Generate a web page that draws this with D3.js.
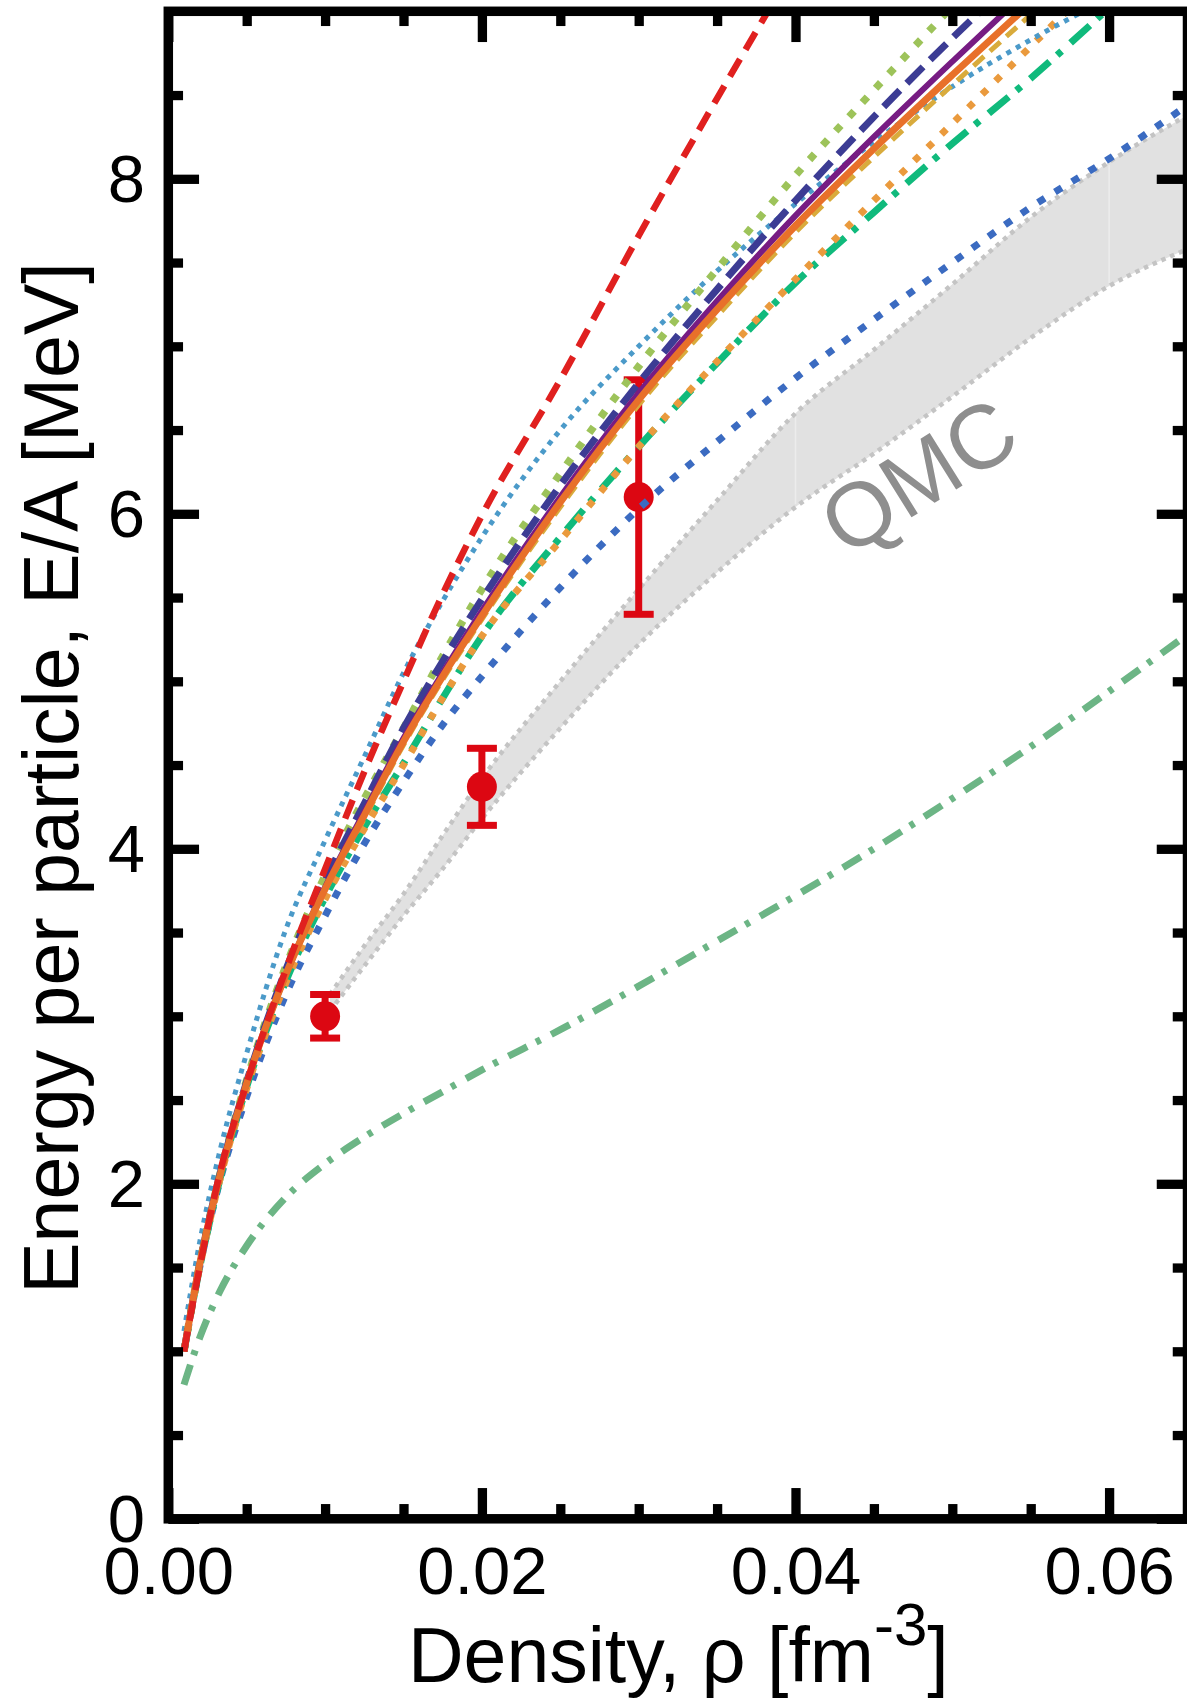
<!DOCTYPE html>
<html>
<head>
<meta charset="utf-8">
<script src="https://cdn.jsdelivr.net/npm/d3@7"></script>
<style>
  body { margin: 0; background: #ffffff; }
  svg { display: block; }
  text { font-family: "Liberation Sans", Arial, Helvetica, sans-serif; }
</style>
</head>
<body>
<svg id="chart" width="1187" height="1700"></svg>
<script>
// Density grid (fm^-3) shared by the model curves
const densityGrid = [0.001, 0.002, 0.0033, 0.005, 0.0075, 0.01, 0.0125, 0.015, 0.0175, 0.02,
                     0.025, 0.03, 0.035, 0.04, 0.045, 0.05, 0.055, 0.06, 0.065];

// Energy per particle (MeV) of each model along densityGrid
const redDashed        = [1.0, 1.5, 2.07, 2.6, 3.28, 3.88, 4.46, 5.0, 5.52, 5.99, 6.8, 7.66, 8.48, 9.28];
const lightBlueDotted  = [1.12, 1.65, 2.2, 2.78, 3.52, 4.05, 4.55, 5.05, 5.48, 5.86, 6.5, 7.0, 7.45, 7.85, 8.22, 8.55, 8.83, 9.08];
const lightGreenDotted = [1.0, 1.52, 2.06, 2.62, 3.3, 3.84, 4.3, 4.72, 5.15, 5.55, 6.24, 6.88, 7.46, 8.02, 8.53, 9.03];
const darkBlueDashed   = [1.0, 1.52, 2.06, 2.61, 3.28, 3.81, 4.27, 4.72, 5.12, 5.49, 6.17, 6.78, 7.34, 7.87, 8.37, 8.84, 9.28];
const goldDashed       = [1.0, 1.52, 2.05, 2.6, 3.24, 3.75, 4.18, 4.62, 5.01, 5.37, 6.04, 6.65, 7.18, 7.68, 8.13, 8.56, 8.98, 9.4];
const purpleSolid      = [1.0, 1.52, 2.05, 2.6, 3.25, 3.77, 4.22, 4.66, 5.05, 5.42, 6.1, 6.72, 7.27, 7.78, 8.25, 8.7, 9.14];
const orangeSolid      = [1.0, 1.52, 2.05, 2.6, 3.25, 3.76, 4.2, 4.64, 5.03, 5.39, 6.07, 6.68, 7.22, 7.72, 8.18, 8.62, 9.05];
const orangeDotted     = [1.0, 1.5, 2.03, 2.57, 3.2, 3.7, 4.12, 4.5, 4.9, 5.27, 5.84, 6.4, 6.91, 7.4, 7.87, 8.33, 8.79, 9.25];
const tealDashDot      = [1.0, 1.5, 2.03, 2.58, 3.21, 3.71, 4.13, 4.51, 4.9, 5.27, 5.86, 6.4, 6.9, 7.38, 7.8, 8.21, 8.6, 9.02];
const blueDotted       = [1.0, 1.5, 2.02, 2.52, 3.13, 3.6, 4.03, 4.4, 4.74, 5.03, 5.56, 6.03, 6.43, 6.81, 7.16, 7.5, 7.83, 8.12, 8.44];
const greenDashDot     = [0.8, 1.08, 1.36, 1.63, 1.92, 2.12, 2.28, 2.42, 2.55, 2.68, 2.92, 3.18, 3.45, 3.72, 4.0, 4.3, 4.61, 4.94, 5.28];

// QMC band
const qmcDensity = [0.0103, 0.0125, 0.015, 0.0175, 0.02, 0.025, 0.03, 0.035, 0.04, 0.045, 0.05, 0.055, 0.06, 0.065];
const qmcUpper   = [3.13, 3.42, 3.73, 4.08, 4.42, 5.0, 5.55, 6.08, 6.6, 6.98, 7.37, 7.77, 8.1, 8.38];
const qmcLower   = [3.03, 3.3, 3.6, 3.88, 4.18, 4.72, 5.22, 5.65, 6.04, 6.36, 6.7, 7.05, 7.36, 7.58];
const qmcSeams   = [0.04, 0.06];

// Data points with symmetric error bars
const expDensity = [0.01, 0.02, 0.03];
const expEnergy  = [3.0, 4.37, 6.1];
const expError   = [0.13, 0.23, 0.7];

// Axis ticks
const xMajorTicks = [0, 0.02, 0.04, 0.06];
const xMinorTicks = [0.005, 0.01, 0.015, 0.025, 0.03, 0.035, 0.045, 0.05, 0.055];
const yMajorTicks = [0, 2, 4, 6, 8];
const yMinorTicks = [0.5, 1, 1.5, 2.5, 3, 3.5, 4.5, 5, 5.5, 6.5, 7, 7.5, 8.5];

const svg = d3.select("#chart");
const plotLeft = 168.3, plotRight = 1187.5, plotTop = 11.3, plotBottom = 1518.8;
const frameW = 9.5, halfFrame = frameW / 2;

const x = d3.scaleLinear().domain([0, 0.065]).range([plotLeft, plotRight]);
const y = d3.scaleLinear().domain([0, 9]).range([plotBottom, plotTop]);

svg.append("defs").append("clipPath").attr("id", "plotClip")
  .append("rect").attr("x", plotLeft).attr("y", plotTop)
  .attr("width", plotRight - plotLeft).attr("height", plotBottom - plotTop);

const plot = svg.append("g").attr("clip-path", "url(#plotClip)");

// QMC band
const band = qmcDensity.map((d, i) => ({ x: d, lo: qmcLower[i], hi: qmcUpper[i] }));
plot.append("path").datum(band)
  .attr("fill", "#e1e1e1")
  .attr("d", d3.area().x(d => x(d.x)).y0(d => y(d.lo)).y1(d => y(d.hi)).curve(d3.curveMonotoneX));

const bandLo = d3.scaleLinear().domain(qmcDensity).range(qmcLower);
const bandHi = d3.scaleLinear().domain(qmcDensity).range(qmcUpper);
plot.selectAll("line.seam").data(qmcSeams).join("line")
  .attr("class", "seam")
  .attr("x1", d => x(d)).attr("x2", d => x(d))
  .attr("y1", d => y(bandLo(d)) - 3).attr("y2", d => y(bandHi(d)) + 3)
  .attr("stroke", "#ececec").attr("stroke-width", 1.5);

const lineOf = key => d3.line().x(d => x(d.x)).y(d => y(d[key])).curve(d3.curveMonotoneX);
["hi", "lo"].forEach(key => {
  plot.append("path").datum(band)
    .attr("fill", "none").attr("stroke", "#c4c4c4").attr("stroke-width", 4.5)
    .attr("stroke-dasharray", "4.5,5")
    .attr("d", lineOf(key));
});

// QMC label
svg.append("text")
  .attr("transform", `translate(${x(0.0478)},${y(6.23)}) rotate(-32)`)
  .attr("text-anchor", "middle").attr("dy", "0.36em")
  .attr("font-size", 90).attr("fill", "#8e8e8e")
  .text("QMC");

// Experimental points
const expG = plot.append("g").attr("stroke", "#dc0712").attr("fill", "#dc0712");
expDensity.forEach((d, i) => {
  const cx = x(d), e = expError[i];
  expG.append("line").attr("x1", cx).attr("x2", cx)
    .attr("y1", y(expEnergy[i] - e)).attr("y2", y(expEnergy[i] + e)).attr("stroke-width", 7);
  [expEnergy[i] - e, expEnergy[i] + e].forEach(v => {
    expG.append("line").attr("x1", cx - 15).attr("x2", cx + 15)
      .attr("y1", y(v)).attr("y2", y(v)).attr("stroke-width", 7);
  });
  expG.append("circle").attr("cx", cx).attr("cy", y(expEnergy[i])).attr("r", 15).attr("stroke", "none");
});

// Model curves, bottom layer first
const curves = [
  { v: greenDashDot,     color: "#6cb585", w: 7,   dash: "21,10,5,12" },
  { v: blueDotted,       color: "#3b6bc1", w: 7,   dash: "8,12" },
  { v: tealDashDot,      color: "#10ba7c", w: 7,   dash: "26,10,6,12" },
  { v: orangeDotted,     color: "#ea9a3d", w: 7,   dash: "7,12" },
  { v: lightBlueDotted,  color: "#4b9ac9", w: 5,   dash: "5,6" },
  { v: lightGreenDotted, color: "#9dc35a", w: 7.5, dash: "7.5,12" },
  { v: darkBlueDashed,   color: "#3c3c94", w: 7,   dash: "23,10" },
  { v: goldDashed,       color: "#d9ab3c", w: 5,   dash: "14,8" },
  { v: purpleSolid,      color: "#771c83", w: 6,   dash: null },
  { v: orangeSolid,      color: "#e8702a", w: 7,   dash: null },
  { v: redDashed,        color: "#e0201f", w: 6.5, dash: "20,11" }
];
const modelLine = d3.line().x(d => x(d.x)).y(d => y(d.e)).curve(d3.curveMonotoneX);
curves.forEach(c => {
  const pts = c.v.map((e, i) => ({ x: densityGrid[i], e }));
  plot.append("path").datum(pts)
    .attr("fill", "none").attr("stroke", c.color).attr("stroke-width", c.w)
    .attr("stroke-dasharray", c.dash)
    .attr("d", modelLine);
});

// Frame
svg.append("rect").attr("x", plotLeft).attr("y", plotTop)
  .attr("width", plotRight - plotLeft).attr("height", plotBottom - plotTop)
  .attr("fill", "none").attr("stroke", "#000").attr("stroke-width", frameW);

// Axes with inward ticks on all four sides
const majorLen = 26 + halfFrame, minorLen = 10 + halfFrame;
const tickFont = 67;
function styleAxis(g) {
  g.select(".domain").remove();
  g.selectAll(".tick line").attr("stroke", "#000").attr("stroke-width", 9.3);
  g.selectAll(".tick text").attr("font-size", tickFont).attr("fill", "#000")
    .attr("font-family", "'Liberation Sans', Arial, Helvetica, sans-serif");
}
svg.append("g").attr("transform", `translate(0,${plotBottom})`)
  .call(d3.axisBottom(x).tickValues(xMajorTicks).tickSize(-majorLen).tickPadding(27.5).tickFormat(d3.format(".2f")))
  .call(styleAxis);
svg.append("g").attr("transform", `translate(0,${plotBottom})`)
  .call(d3.axisBottom(x).tickValues(xMinorTicks).tickSize(-minorLen).tickFormat(""))
  .call(styleAxis);
svg.append("g").attr("transform", `translate(0,${plotTop})`)
  .call(d3.axisTop(x).tickValues(xMajorTicks).tickSize(-majorLen).tickFormat(""))
  .call(styleAxis);
svg.append("g").attr("transform", `translate(0,${plotTop})`)
  .call(d3.axisTop(x).tickValues(xMinorTicks).tickSize(-minorLen).tickFormat(""))
  .call(styleAxis);
svg.append("g").attr("transform", `translate(${plotLeft},0)`)
  .call(d3.axisLeft(y).tickValues(yMajorTicks).tickSize(-majorLen).tickPadding(23.3).tickFormat(d3.format("d")))
  .call(styleAxis)
  .call(g => g.selectAll(".tick text").attr("dy", "0.34em"));
svg.append("g").attr("transform", `translate(${plotLeft},0)`)
  .call(d3.axisLeft(y).tickValues(yMinorTicks).tickSize(-minorLen).tickFormat(""))
  .call(styleAxis);
svg.append("g").attr("transform", `translate(${plotRight},0)`)
  .call(d3.axisRight(y).tickValues(yMajorTicks).tickSize(-majorLen).tickFormat(""))
  .call(styleAxis);
svg.append("g").attr("transform", `translate(${plotRight},0)`)
  .call(d3.axisRight(y).tickValues(yMinorTicks).tickSize(-minorLen).tickFormat(""))
  .call(styleAxis);

// Axis titles
svg.append("text")
  .attr("transform", `translate(78,${(plotTop + plotBottom) / 2 + 13}) rotate(-90)`)
  .attr("text-anchor", "middle").attr("font-size", 77).attr("fill", "#000")
  .text("Energy per particle, E/A [MeV]");

const xt = svg.append("text").attr("x", 408).attr("y", 1682)
  .attr("font-size", 77).attr("fill", "#000");
xt.append("tspan").text("Density, ρ [fm");
xt.append("tspan").attr("font-size", 60).attr("dy", -37).text("-3");
xt.append("tspan").attr("font-size", 77).attr("dy", 37).text("]");
</script>
</body>
</html>
